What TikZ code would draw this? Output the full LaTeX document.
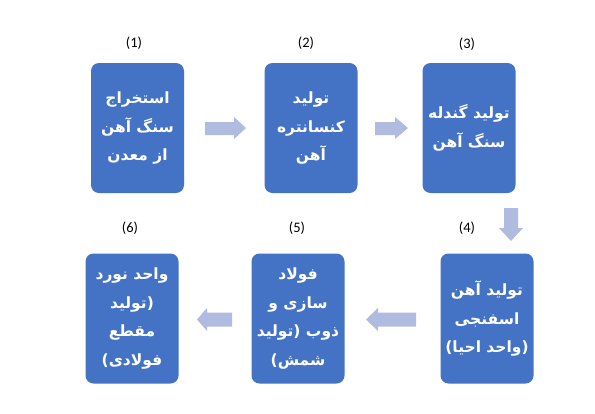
\documentclass[tikz,border=0pt]{standalone}
\usepackage{fontspec}
\TeXXeTstate=1
\setmainfont{Carlito}
\newfontfamily\arabicfont[Script=Arabic]{DejaVu Sans}
\newcommand{\rl}[1]{\beginR #1\endR}
\definecolor{boxblue}{HTML}{4472C4}
\definecolor{arrowblue}{HTML}{B0BCDF}
\begin{document}
\begin{tikzpicture}[x=1pt,y=-1pt,
  stepbox/.style={fill=boxblue, draw=none, rounded corners=8pt, minimum width=93pt, minimum height=130pt, inner sep=0pt, text=white, align=center, font=\arabicfont\bfseries\fontsize{15.5}{28.5}\selectfont},
  numlabel/.style={font=\fontsize{14.5}{16}\selectfont, inner sep=0pt},
  blockarrow/.style={fill=arrowblue, draw=none}]
\useasboundingbox (0,0) rectangle (595,413);
\fill[white] (0,0) rectangle (595,413);
% boxes
\node[stepbox] (b1) at (137.5,128) {\rl{استخراج}\\\rl{سنگ آهن}\\\rl{از معدن}};
\node[stepbox] (b2) at (311,128) {\rl{تولید}\\\rl{کنسانتره}\\\rl{آهن}};
\node[stepbox] (b3) at (469,128) {\rl{تولید گندله}\\\rl{سنگ آهن}};
\node[stepbox] (b4) at (487,318.5) {\rl{تولید آهن}\\\rl{اسفنجی}\\\rl{(واحد احیا)}};
\node[stepbox] (b5) at (298,318.5) {\rl{فولاد}\\\rl{سازی و}\\\rl{ذوب (تولید}\\\rl{شمش)}};
\node[stepbox] (b6) at (132,318.5) {\rl{واحد نورد}\\\rl{(تولید}\\\rl{مقطع}\\\rl{فولادی)}};
% labels
\node[numlabel] (l1) at (134,43) {(1)};
\node[numlabel] (l2) at (306,43) {(2)};
\node[numlabel] (l3) at (467,44) {(3)};
\node[numlabel] (l4) at (467,228) {(4)};
\node[numlabel] (l5) at (297,228) {(5)};
\node[numlabel] (l6) at (130,228) {(6)};
% block arrows
\fill[blockarrow] (205,122) -- (234,122) -- (234,117) -- (246,128) -- (234,139) -- (234,135) -- (205,135) -- cycle;
\fill[blockarrow] (375,122) -- (395,122) -- (395,117) -- (408,128) -- (395,139) -- (395,135) -- (375,135) -- cycle;
\fill[blockarrow] (504,208) -- (518,208) -- (518,228) -- (523,228) -- (511,241) -- (499,228) -- (504,228) -- cycle;
\fill[blockarrow] (416,312.5) -- (378,312.5) -- (378,308) -- (366,319.5) -- (378,331) -- (378,326.5) -- (416,326.5) -- cycle;
\fill[blockarrow] (232,312.5) -- (207,312.5) -- (207,308) -- (197,319.5) -- (207,331) -- (207,326.5) -- (232,326.5) -- cycle;
\end{tikzpicture}
\end{document}
